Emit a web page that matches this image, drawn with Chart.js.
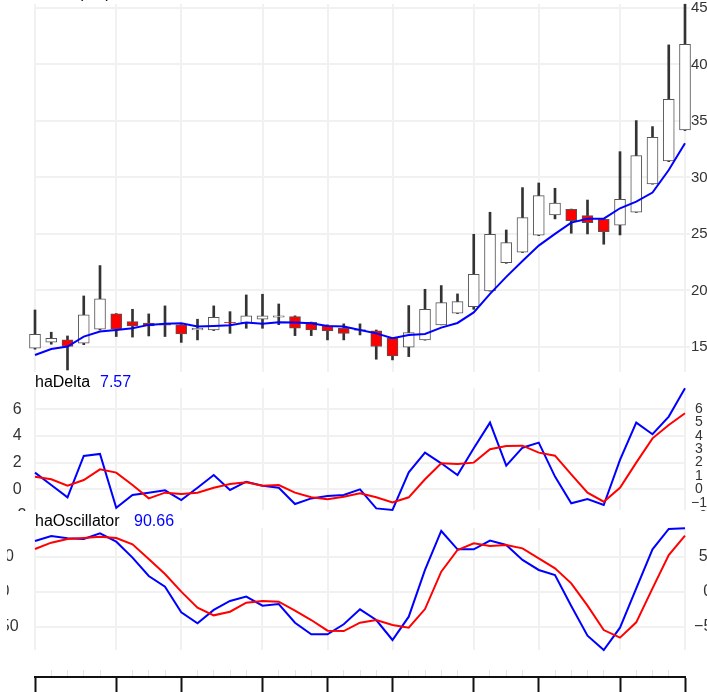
<!DOCTYPE html>
<html><head><meta charset="utf-8">
<script src="https://cdn.jsdelivr.net/npm/chart.js@4.4.1/dist/chart.umd.min.js"></script>
<style>
html,body{margin:0;padding:0;background:#fff;overflow:hidden;width:707px;height:692px;}
#wrap{position:relative;width:707px;height:692px;overflow:hidden;font-family:"Liberation Sans",Arial,sans-serif;background:#fff;}
canvas{position:absolute;}
.lbl{position:absolute;font-size:16px;line-height:16px;white-space:nowrap;color:#000;z-index:10;}
</style></head>
<body><div id="wrap">
<canvas id="c1" width="707" height="372" style="left:0;top:0"></canvas>
<canvas id="c2" width="707" height="150" style="left:0;top:372px"></canvas>
<canvas id="c3" width="700" height="150" style="left:7px;top:511px"></canvas>
<canvas id="c4" width="707" height="37" style="left:0;top:655px"></canvas>
<div class="lbl" style="left:37px;top:-15px">Price (HA)</div>
<div class="lbl" style="left:35px;top:373.5px">haDelta</div>
<div class="lbl" style="left:100px;top:373.5px;color:#0000ff">7.57</div>
<div class="lbl" style="left:35px;top:513.2px">haOscillator</div>
<div class="lbl" style="left:134px;top:513.2px;color:#0000ff">90.66</div>
</div>
<script>
const categories = ["W01","W02","W03","W04","W05","W06","W07","W08","W09","W10","W11","W12","W13","W14","W15","W16","W17","W18","W19","W20","W21","W22","W23","W24","W25","W26","W27","W28","W29","W30","W31","W32","W33","W34","W35","W36","W37","W38","W39","W40","W41"];
const majorIdx = [0,5,9,14,18,22,27,31,36,40];

const haOpen  = [14.88,15.42,15.62,15.33,16.56,17.92,17.24,17.10,17.00,16.95,16.50,16.50,17.18,17.15,17.45,17.63,17.68,17.18,16.86,16.65,16.47,16.42,15.77,14.97,15.62,16.95,17.98,18.57,19.96,22.46,23.38,24.88,26.68,27.18,26.62,26.30,25.77,26.92,29.42,31.46,34.20];
const haClose = [16.12,15.77,15.04,17.83,19.25,16.56,16.86,16.86,16.92,16.15,16.64,17.62,17.13,17.75,17.75,17.75,16.65,16.50,16.42,16.20,16.53,15.04,14.20,16.27,18.33,18.92,19.01,21.43,24.97,24.23,26.44,28.39,27.72,26.17,26.00,25.20,28.06,31.93,33.56,36.92,41.79];
const haHigh  = [18.27,16.30,15.97,19.51,22.20,17.95,18.33,17.92,18.63,16.97,17.45,18.63,18.12,19.60,19.66,18.80,17.75,17.20,16.95,17.04,17.04,16.50,15.80,18.66,20.10,20.43,19.69,24.97,26.92,25.35,29.10,29.51,29.04,27.20,28.00,26.30,32.28,35.03,34.50,41.73,45.33];
const haLow   = [14.80,15.24,12.96,15.20,16.50,15.92,15.87,15.97,15.92,15.40,15.62,16.45,16.20,16.65,16.65,16.97,16.00,16.00,15.62,15.62,16.06,13.91,13.85,14.14,15.60,16.95,17.95,18.33,19.93,22.40,23.35,24.85,26.33,25.06,25.00,24.09,24.91,26.90,29.40,31.40,34.15];
const priceAvg = [14.29,14.82,15.03,15.91,16.36,16.50,16.65,16.95,17.04,17.10,16.80,16.86,16.92,17.15,17.04,17.18,17.15,17.10,16.86,16.80,16.50,16.20,15.77,16.06,16.15,16.71,17.12,18.05,19.70,21.20,22.60,23.97,25.00,26.00,26.35,26.35,27.27,27.86,28.66,30.66,33.03];

const deltaValues = [1.25,0.32,-0.60,2.50,2.65,-1.38,-0.43,-0.25,-0.08,-0.80,0.12,1.07,-0.05,0.57,0.27,0.12,-1.10,-0.68,-0.50,-0.43,0.00,-1.43,-1.55,1.27,2.75,1.95,1.07,3.07,5.00,1.77,3.12,3.50,0.95,-1.05,-0.73,-1.18,2.20,5.00,4.13,5.45,7.57];
const deltaSignal = [0.95,0.75,0.27,0.70,1.50,1.25,0.32,-0.68,-0.25,-0.35,-0.25,0.12,0.40,0.52,0.27,0.32,-0.25,-0.60,-0.75,-0.55,-0.30,-0.60,-0.98,-0.60,0.75,1.95,1.90,2.00,3.00,3.25,3.27,2.75,2.52,1.12,-0.25,-0.93,0.12,2.00,3.82,4.82,5.70];

const oscValues = [72.4,79.6,76.2,75.3,83.4,71.4,48.6,22.4,7.1,-29.5,-45.2,-26.1,-13.3,-7.1,-20.0,-17.6,-44.3,-60.9,-60.9,-46.6,-25.2,-40.5,-69.0,-35.7,31.0,86.7,60.5,60.5,72.9,66.7,45.3,31.0,23.8,-20.4,-62.9,-83.3,-51.4,4.8,60.5,89.6,90.66];
const oscSignal = [61.0,70.0,75.3,76.7,78.6,76.7,67.6,46.7,25.3,0.0,-22.8,-33.8,-28.6,-15.7,-13.3,-14.3,-27.1,-40.5,-55.7,-56.2,-44.3,-40.5,-47.6,-51.4,-24.8,28.6,59.5,69.0,65.2,66.7,61.9,47.6,33.3,11.9,-20.0,-54.8,-65.7,-43.8,4.8,52.4,80.0];

const priceTicks = [15,20,25,30,35,40,45];
const deltaTicksLeft = [-2,0,2,4,6];
const deltaTicksRight = [-2,-1,0,1,2,3,4,5,6];
const oscTicks = [-50,0,50];

const FAM = '"Liberation Sans", Arial, sans-serif';
const GRID = '#f1f1f1';
const TICKTXT = '#333333';
const fmt = v => v < 0 ? '\u2212' + Math.abs(v) : String(v);
const setTicks = arr => s => { s.ticks = arr.map(v => ({value: v})); };
const fitW = w => s => { s.width = w; s.paddingTop = 0; s.paddingBottom = 0; s.paddingLeft = 0; s.paddingRight = 0; };
const fitH = h => s => { s.height = h; s.paddingTop = 0; s.paddingBottom = 0; s.paddingLeft = 0; s.paddingRight = 0; };
const whiteBg = {id:'whiteBg', beforeDraw(c){const x=c.ctx; x.save(); x.fillStyle='#fff'; x.fillRect(0,0,c.width,c.height); x.restore();}};
const base = {responsive:false, animation:false, events:[], plugins:{legend:{display:false}, tooltip:{enabled:false}}};
const xMajor = {type:'category', offset:false,
  grid:{offset:false, drawTicks:false, lineWidth:2, color: c => majorIdx.includes(c.index) ? GRID : 'rgba(0,0,0,0)'},
  ticks:{display:false}, border:{display:false}, afterFit: fitH(0)};

// Top panel: Heikin-Ashi candles
new Chart(document.getElementById('c1'), {
  type:'bar',
  data:{labels:categories, datasets:[
    {type:'bar', data: haLow.map((l,i)=>[l, haHigh[i]]), backgroundColor:'#333333', barThickness:2, grouped:false, order:3, clip:false},
    {type:'bar', data: haOpen.map((o,i)=>[o, haClose[i]]),
      backgroundColor: haOpen.map((o,i)=> haClose[i] < o ? '#ff0000' : '#ffffff'),
      borderColor:'#555555', borderWidth:1, borderSkipped:false, barThickness:11, grouped:false, order:2, clip:false},
    {type:'line', data: priceAvg, borderColor:'#0000ff', borderWidth:2, pointRadius:0, tension:0, order:1, clip:false}
  ]},
  options:Object.assign({}, base, {
    layout:{autoPadding:false, padding:{left:35, right:0, top:4, bottom:0}},
    scales:{
      x: xMajor,
      y:{position:'right', min:12.78, max:45.35, afterBuildTicks:setTicks(priceTicks), afterFit:fitW(22),
         grid:{color:GRID, lineWidth:2, tickLength:5, tickColor:GRID},
         border:{display:false},
         ticks:{padding:1, autoSkip:false, crossAlign:'near', color:TICKTXT, font:{family:FAM, size:15}, callback:fmt}}
    }
  }),
  plugins:[whiteBg]
});

// Middle panel: haDelta
new Chart(document.getElementById('c2'), {
  type:'line',
  data:{labels:categories, datasets:[
    {data: deltaSignal, borderColor:'#ff0000', borderWidth:2, pointRadius:0, tension:0, clip:false, yAxisID:'yL'},
    {data: deltaValues, borderColor:'#0000ff', borderWidth:2, pointRadius:0, tension:0, clip:false, yAxisID:'yL'}
  ]},
  options:Object.assign({}, base, {
    layout:{autoPadding:false, padding:{left:0, right:0, top:16.3, bottom:12}},
    scales:{
      x: xMajor,
      yL:{position:'left', min:-1.55, max:7.57, afterBuildTicks:setTicks(deltaTicksLeft), afterFit:fitW(35),
          grid:{color:GRID, lineWidth:2, drawTicks:false}, border:{display:false},
          ticks:{padding:8.7, autoSkip:false, crossAlign:'center', color:TICKTXT, font:{family:FAM, size:16}, callback:fmt}},
      yR:{position:'right', min:-1.55, max:7.57, afterBuildTicks:setTicks(deltaTicksRight), afterFit:fitW(22),
          grid:{drawOnChartArea:false, drawTicks:false}, border:{display:false},
          ticks:{padding:6, autoSkip:false, crossAlign:'center', color:TICKTXT, font:{family:FAM, size:14}, callback:fmt}}
    }
  }),
  plugins:[whiteBg]
});

// Bottom panel: haOscillator
new Chart(document.getElementById('c3'), {
  type:'line',
  data:{labels:categories, datasets:[
    {data: oscSignal, borderColor:'#ff0000', borderWidth:2, pointRadius:0, tension:0, clip:false, yAxisID:'yL'},
    {data: oscValues, borderColor:'#0000ff', borderWidth:2, pointRadius:0, tension:0, clip:false, yAxisID:'yL'}
  ]},
  options:Object.assign({}, base, {
    layout:{autoPadding:false, padding:{left:0, right:0, top:17.2, bottom:11}},
    scales:{
      x: xMajor,
      yL:{position:'left', min:-83.3, max:90.66, afterBuildTicks:setTicks(oscTicks), afterFit:fitW(28),
          grid:{color:GRID, lineWidth:2, drawTicks:false}, border:{display:false},
          ticks:{padding:16.4, autoSkip:false, crossAlign:'center', color:TICKTXT, font:{family:FAM, size:16}, callback:fmt}},
      yR:{position:'right', min:-83.3, max:90.66, afterBuildTicks:setTicks(oscTicks), afterFit:fitW(22),
          grid:{drawOnChartArea:false, drawTicks:false}, border:{display:false},
          ticks:{padding:9.1, autoSkip:false, crossAlign:'center', color:TICKTXT, font:{family:FAM, size:16}, callback:fmt}}
    }
  }),
  plugins:[whiteBg]
});

// Bottom time axis
new Chart(document.getElementById('c4'), {
  type:'line',
  data:{labels:categories, datasets:[]},
  options:Object.assign({}, base, {
    layout:{autoPadding:false, padding:{left:35, right:22, top:15, bottom:0}},
    scales:{
      x:{type:'category', offset:false, position:'bottom',
         grid:{offset:false, lineWidth:1, color: c => majorIdx.includes(c.index) ? 'rgba(0,0,0,0)' : '#e4e4e4',
               tickLength:15, tickWidth:2, tickColor: c => majorIdx.includes(c.index) ? '#111111' : 'rgba(0,0,0,0)'},
         border:{display:true, color:'#111111', width:2},
         ticks:{display:false}, afterFit:fitH(15)},
      y:{display:false, min:0, max:1}
    }
  }),
  plugins:[whiteBg]
});
</script>
</body></html>
